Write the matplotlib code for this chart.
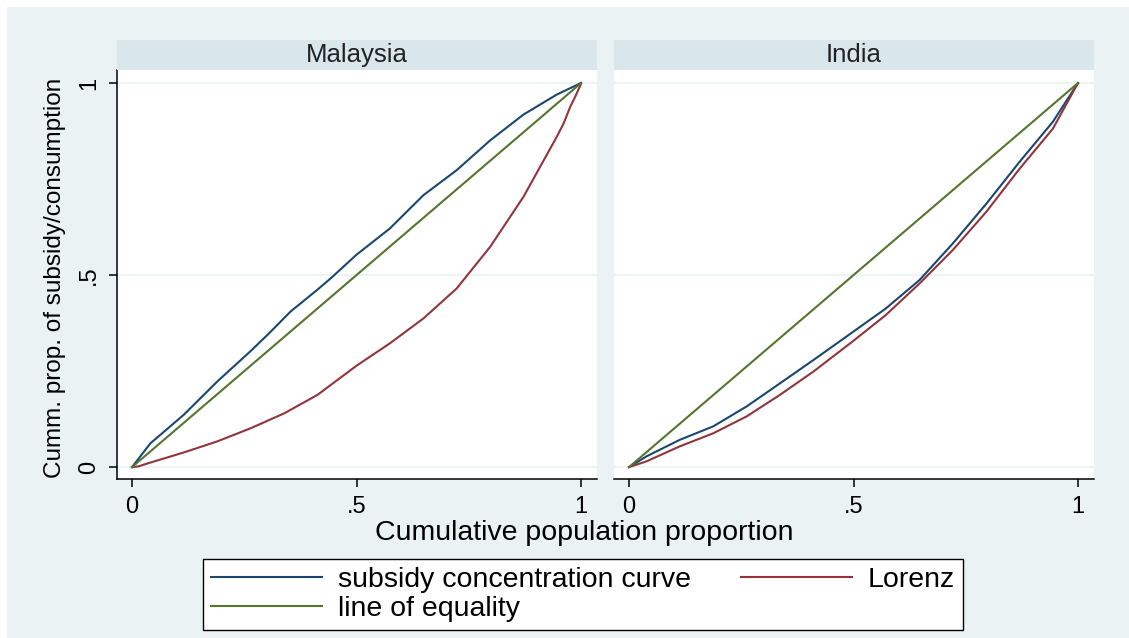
import matplotlib
matplotlib.use("Agg")
import matplotlib.pyplot as plt
from matplotlib.patches import Rectangle

plt.rcParams["font.family"] = ["Liberation Sans", "DejaVu Sans"]

# Data (cumulative population share -> cumulative share)
countries = ["Malaysia", "India"]

mys_conc_x = [0.0, 0.041, 0.115, 0.19, 0.264, 0.305, 0.353, 0.413, 0.443, 0.5,
              0.574, 0.649, 0.723, 0.798, 0.872, 0.946, 1.0]
mys_conc_y = [0.0, 0.062, 0.136, 0.223, 0.302, 0.348, 0.405, 0.462, 0.492, 0.553,
              0.621, 0.708, 0.773, 0.851, 0.918, 0.970, 1.0]

mys_lor_x = [0.0, 0.015, 0.033, 0.115, 0.19, 0.264, 0.339, 0.413, 0.5, 0.574, 0.649,
             0.723, 0.798, 0.872, 0.909, 0.946, 0.961, 0.976, 0.987, 0.9985, 1.0]
mys_lor_y = [0.0, 0.002, 0.009, 0.038, 0.067, 0.101, 0.140, 0.188, 0.264, 0.322, 0.387,
             0.465, 0.574, 0.704, 0.782, 0.860, 0.894, 0.938, 0.964, 0.994, 1.0]

ind_conc_x = [0.0, 0.039, 0.113, 0.1875, 0.262, 0.336, 0.411, 0.5, 0.572, 0.647,
              0.721, 0.796, 0.870, 0.944, 1.0]
ind_conc_y = [0.0, 0.028, 0.071, 0.106, 0.158, 0.218, 0.279, 0.353, 0.413, 0.487,
              0.582, 0.686, 0.795, 0.899, 1.0]

ind_lor_x = [0.0, 0.039, 0.113, 0.1875, 0.262, 0.336, 0.411, 0.5, 0.572, 0.647,
             0.721, 0.796, 0.870, 0.944, 1.0]
ind_lor_y = [0.0, 0.015, 0.054, 0.088, 0.132, 0.188, 0.249, 0.329, 0.396, 0.478,
             0.565, 0.665, 0.777, 0.881, 1.0]

equality = [0.0, 1.0]

ticks = [0, 0.5, 1]
tick_labels = ["0", ".5", "1"]

BLUE = "#1a476f"
RED = "#90353b"
GREEN = "#55752f"
BG = "#eaf2f3"
HEAD = "#d9e6eb"

W, H = 1129, 638
fig = plt.figure(figsize=(W / 100, H / 100), dpi=100, facecolor="white")
fig.patches.append(Rectangle((7 / W, 0), 1, 1 - 7 / H, transform=fig.transFigure,
                             facecolor=BG, edgecolor="none", zorder=-10))

panels = [
    (117, mys_conc_x, mys_conc_y, mys_lor_x, mys_lor_y),
    (614, ind_conc_x, ind_conc_y, ind_lor_x, ind_lor_y),
]

handles = None
for i, (px, cx, cy, lx, ly) in enumerate(panels):
    ax = fig.add_axes([px / W, (H - 479) / H, 480 / W, 409 / H])
    ax.set_facecolor("white")
    for y in ticks:
        ax.axhline(y, color=BG, lw=1.2, zorder=0)
    h1, = ax.plot(cx, cy, color=BLUE, lw=1.5, label="subsidy concentration curve")
    h3, = ax.plot(lx, ly, color=RED, lw=1.5, label="Lorenz")
    h2, = ax.plot(equality, equality, color=GREEN, lw=1.5, label="line of equality")
    handles = [h1, h2, h3]
    ax.set_xlim(-0.0335, 1.0357)
    ax.set_ylim(-0.031, 1.034)
    ax.set_xticks(ticks)
    ax.set_xticklabels(tick_labels, fontsize=17)
    ax.spines["top"].set_visible(False)
    ax.spines["right"].set_visible(False)
    ax.spines["bottom"].set_linewidth(1.1)
    ax.tick_params(axis="x", length=6, width=1.1, pad=6)
    if i == 0:
        ax.set_yticks(ticks)
        ax.set_yticklabels(tick_labels, fontsize=17, rotation=90, va="center")
        ax.spines["left"].set_linewidth(1.1)
        ax.tick_params(axis="y", length=6, width=1.1, pad=6)
    else:
        ax.set_yticks([])
        ax.spines["left"].set_visible(False)

    # panel header strip
    hax = fig.add_axes([px / W, (H - 70) / H, 480 / W, 30 / H])
    hax.set_facecolor(HEAD)
    hax.set_xticks([])
    hax.set_yticks([])
    for s in hax.spines.values():
        s.set_visible(False)
    hax.text(0.5, 0.5, countries[i], ha="center", va="center", fontsize=18.5,
             color="#222222", transform=hax.transAxes)

fig.text(55 / W, 1 - 278 / H, "Cumm. prop. of subsidy/consumption",
         rotation=90, ha="center", va="center", fontsize=17.5)
fig.text(584 / W, 1 - 533 / H, "Cumulative population proportion",
         ha="center", va="center", fontsize=20.5)

leg = fig.legend(handles, [h.get_label() for h in handles], ncol=2,
                 loc="center", bbox_to_anchor=(583 / W, 1 - 594.5 / H),
                 fontsize=20.5, frameon=True, fancybox=False, edgecolor="black",
                 facecolor="white", framealpha=1.0,
                 handlelength=3.9, handletextpad=0.55, columnspacing=1.75,
                 labelspacing=0.1, borderpad=0.3)
leg.get_frame().set_linewidth(1.0)
for line in leg.get_lines():
    line.set_linewidth(1.5)

fig.savefig("out.png", dpi=100, facecolor=fig.get_facecolor())
